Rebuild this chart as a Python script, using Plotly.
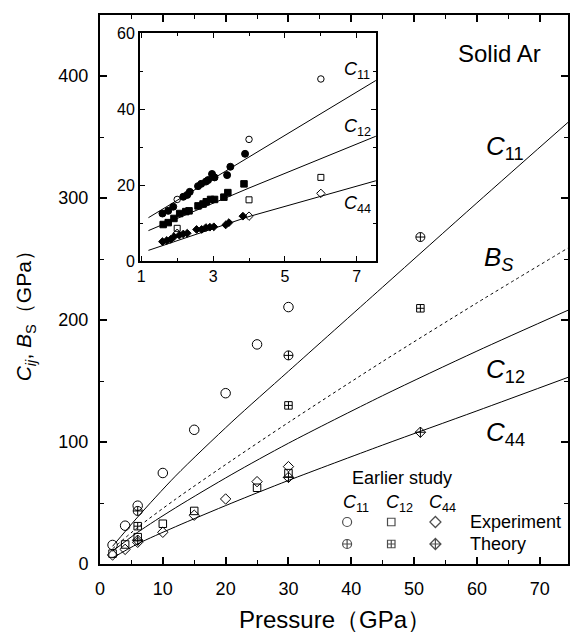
import plotly.graph_objects as go

# ---------------- data ----------------
# Main panel: earlier-study experiment
p_exp_c11 = [2, 4, 6, 10, 15, 20, 25, 30]
c11_exp = [15.6, 31.4, 47.8, 74.6, 110, 140, 180, 210.6]
p_exp_c12 = [2, 4, 6, 10, 15, 25, 30]
c12_exp = [8.5, 16, 22, 33, 43.5, 62.5, 74.5]
p_exp_c44 = [2, 4, 6, 10, 15, 20, 25, 30]
c44_exp = [7.4, 12, 17.8, 26, 40, 53.3, 67.5, 79.8]

# Main panel: earlier-study theory
p_th = [6, 30, 51]
c11_th = [43.5, 171, 268]
c12_th = [31, 130, 209.6]
c44_th = [19.5, 71, 108]

# Main panel: present-study fitted curves
p_fit = [2, 6, 12, 21, 30, 45, 60, 74.5]
c11_fit = [14.5, 38.5, 72, 116.5, 158, 227, 296, 362]
bs_fit = [12.5, 30, 53, 85, 116, 166, 214, 259]
c12_fit = [10.5, 26, 46, 73.5, 99, 138, 174.5, 208]
c44_fit = [5, 16.5, 30.5, 50, 68.5, 97.5, 125.5, 153]

# Inset: present study (filled)
p_in_c11 = [1.59, 1.75, 1.89, 2.17, 2.28, 2.35, 2.58, 2.67, 2.80, 2.86, 2.97, 3.04, 3.39, 3.48, 3.89]
c11_in = [12.5, 13.2, 14.3, 16.9, 17.4, 18.2, 19.7, 20.3, 20.9, 21.3, 22.9, 22.0, 22.6, 24.8, 28.2]
p_in_c12 = [1.61, 1.75, 1.91, 2.07, 2.24, 2.33, 2.58, 2.72, 2.81, 2.93, 3.04, 3.30, 3.41, 3.86]
c12_in = [9.6, 10.1, 11.2, 12.5, 13.0, 13.2, 14.5, 15.0, 15.6, 16.2, 16.2, 16.8, 18.0, 20.3]
p_in_c44 = [1.59, 1.71, 1.82, 1.91, 2.06, 2.17, 2.28, 2.54, 2.68, 2.80, 2.91, 3.02, 3.35, 3.44, 3.83]
c44_in = [5.1, 5.4, 5.7, 6.4, 6.8, 7.1, 7.3, 8.3, 8.3, 8.8, 8.9, 9.0, 9.5, 10.1, 11.8]

# Inset: earlier experiment (open)
p_in_exp = [2, 4, 6]
c11_in_exp = [16.2, 32, 47.9]
c12_in_exp = [8.6, 16.1, 22]
c44_in_exp = [7.3, 11.8, 17.8]

# Inset: fitted lines
p_in_fit = [1.2, 4.0, 7.6]
c11_in_fit = [11.4, 27.4, 47.9]
c12_in_fit = [8.0, 19.2, 33.1]
c44_in_fit = [2.8, 11.7, 21.3]

# Legend grid
legend_cols = ["C11", "C12", "C44"]
legend_rows = ["Theory", "Experiment"]

# ---------------- geometry helpers ----------------
W, H = 571, 632
L, R, T, B = 100, 1, 15, 68
PW, PH = W - L - R, H - T - B


def px(x):
    return (x - L) / PW


def py(y):
    return (H - B - y) / PH


FONT = "Liberation Sans, Arial, Helvetica, sans-serif"
BLK = "black"

fig = go.Figure()

# ---- main curves ----
for y, dash in [(c11_fit, "solid"), (bs_fit, "dot"), (c12_fit, "solid"), (c44_fit, "solid")]:
    fig.add_trace(go.Scatter(x=p_fit, y=y, mode="lines",
                             line=dict(color=BLK, width=1, dash=dash,
                                       shape="spline", smoothing=0.8),
                             showlegend=False, hoverinfo="skip"))

# ---- main markers ----
def mk(x, y, sym, size, xa="x", ya="y", lw=1):
    fig.add_trace(go.Scatter(x=x, y=y, mode="markers", xaxis=xa, yaxis=ya,
                             marker=dict(symbol=sym, size=size, color=BLK,
                                         line=dict(color=BLK, width=lw)),
                             showlegend=False, hoverinfo="skip", cliponaxis=False))


mk(p_exp_c12, c12_exp, "square-open", 7.5)
mk(p_exp_c44, c44_exp, "diamond-open", 8)
mk(p_exp_c11, c11_exp, "circle-open", 9.5)
mk(p_th, c11_th, "circle-cross-open", 9)
mk(p_th, c12_th, "square-cross-open", 7.5)
mk(p_th, c44_th, "diamond-cross-open", 8)

# ---- inset ----
for y in [c11_in_fit, c12_in_fit, c44_in_fit]:
    fig.add_trace(go.Scatter(x=p_in_fit, y=y, mode="lines", xaxis="x2", yaxis="y2",
                             line=dict(color=BLK, width=1),
                             showlegend=False, hoverinfo="skip"))
mk(p_in_c11, c11_in, "circle", 7, "x2", "y2")
mk(p_in_c12, c12_in, "square", 6.5, "x2", "y2")
mk(p_in_c44, c44_in, "diamond", 6, "x2", "y2")
mk(p_in_exp, c11_in_exp, "circle-open", 6.5, "x2", "y2")
mk(p_in_exp, c12_in_exp, "square-open", 6, "x2", "y2")
mk(p_in_exp, c44_in_exp, "diamond-open", 6.5, "x2", "y2")

# ---- legend markers (on an invisible categorical grid) ----
leg_x = legend_cols * 2
leg_y = [legend_rows[1]] * 3 + [legend_rows[0]] * 3
leg_sym = ["circle-open", "square-open", "diamond-open",
           "circle-cross-open", "square-cross-open", "diamond-cross-open"]
leg_size = [9, 7.5, 8.5, 9, 7.5, 8.5]
fig.add_trace(go.Scatter(x=leg_x, y=leg_y, mode="markers", xaxis="x3", yaxis="y3",
                         marker=dict(symbol=leg_sym, size=leg_size, color=BLK,
                                     line=dict(color=BLK, width=1.2)),
                         showlegend=False, hoverinfo="skip", cliponaxis=False))

# ---------------- axes ----------------
main_axis = dict(showline=True, linecolor=BLK, linewidth=2, mirror="allticks",
                 ticks="inside", ticklen=7, tickwidth=1.5, tickcolor=BLK,
                 showgrid=False, zeroline=False,
                 tickfont=dict(family=FONT, size=18, color=BLK))
inset_axis = dict(showline=True, linecolor=BLK, linewidth=1.5, mirror="allticks",
                  ticks="inside", ticklen=5, tickwidth=1.2, tickcolor=BLK,
                  showgrid=False, zeroline=False,
                  tickfont=dict(family=FONT, size=16, color=BLK))

fig.update_layout(
    width=W, height=H,
    margin=dict(l=L, r=R, t=T, b=B, pad=0),
    paper_bgcolor="white", plot_bgcolor="white",
    showlegend=False,
    xaxis=dict(main_axis, range=[0, 74.5], dtick=10, tick0=0,
               ticklabelstandoff=7,
               minor=dict(ticks="inside", ticklen=4, dtick=5, tickwidth=1, tickcolor=BLK)),
    yaxis=dict(main_axis, range=[0, 450], dtick=100, tick0=0,
               ticklabelstandoff=6,
               minor=dict(ticks="inside", ticklen=4, dtick=50, tickwidth=1, tickcolor=BLK)),
    xaxis2=dict(inset_axis, domain=[px(140), px(377)], anchor="y2",
                range=[0.96, 7.53], tick0=1, dtick=2,
                minor=dict(ticks="inside", ticklen=3, dtick=1, tickwidth=1, tickcolor=BLK)),
    yaxis2=dict(inset_axis, domain=[py(261), py(33)], anchor="x2",
                range=[0, 60], dtick=20, tick0=0,
                minor=dict(ticks="inside", ticklen=3, dtick=10, tickwidth=1, tickcolor=BLK)),
    xaxis3=dict(domain=[px(326), px(459)], anchor="y3", type="category",
                categoryorder="array", categoryarray=legend_cols,
                range=[-0.5, 2.5], visible=False),
    yaxis3=dict(domain=[py(555), py(511)], anchor="x3", type="category",
                categoryorder="array", categoryarray=legend_rows,
                range=[-0.5, 1.5], visible=False),
)

# ---------------- text ----------------
def ann(text, x, y, size, xanchor="center", yanchor="middle", angle=0):
    fig.add_annotation(text=text, x=px(x), y=py(y), xref="paper", yref="paper",
                       xanchor=xanchor, yanchor=yanchor, showarrow=False,
                       textangle=angle, font=dict(family=FONT, size=size, color=BLK))


def csub(sub):
    return "<i>C</i><sub>%s</sub>" % sub


ann("Solid Ar", 501, 53, 24)
ann(csub("11"), 486, 147, 26, xanchor="left")
ann("<i>B</i><sub><i>S</i></sub>", 484, 258, 26, xanchor="left")
ann(csub("12"), 486, 370, 26, xanchor="left")
ann(csub("44"), 486, 433, 26, xanchor="left")

ann(csub("11"), 343, 71, 18, xanchor="left")
ann(csub("12"), 343, 128, 18, xanchor="left")
ann(csub("44"), 343, 204, 18, xanchor="left")

ann("Earlier study", 403, 478, 18)
ann(csub("11"), 342, 503, 18, xanchor="left")
ann(csub("12"), 385, 503, 18, xanchor="left")
ann(csub("44"), 428, 503, 18, xanchor="left")
ann("Experiment", 470, 522, 18, xanchor="left")
ann("Theory", 470, 544, 18, xanchor="left")

ann("Pressure（GPa）", 336, 619, 24)
ann("<i>C</i><sub><i>ij</i></sub>, <i>B</i><sub>S</sub>（GPa）", 25, 311, 21, angle=-90)

fig.write_html("out.html")
